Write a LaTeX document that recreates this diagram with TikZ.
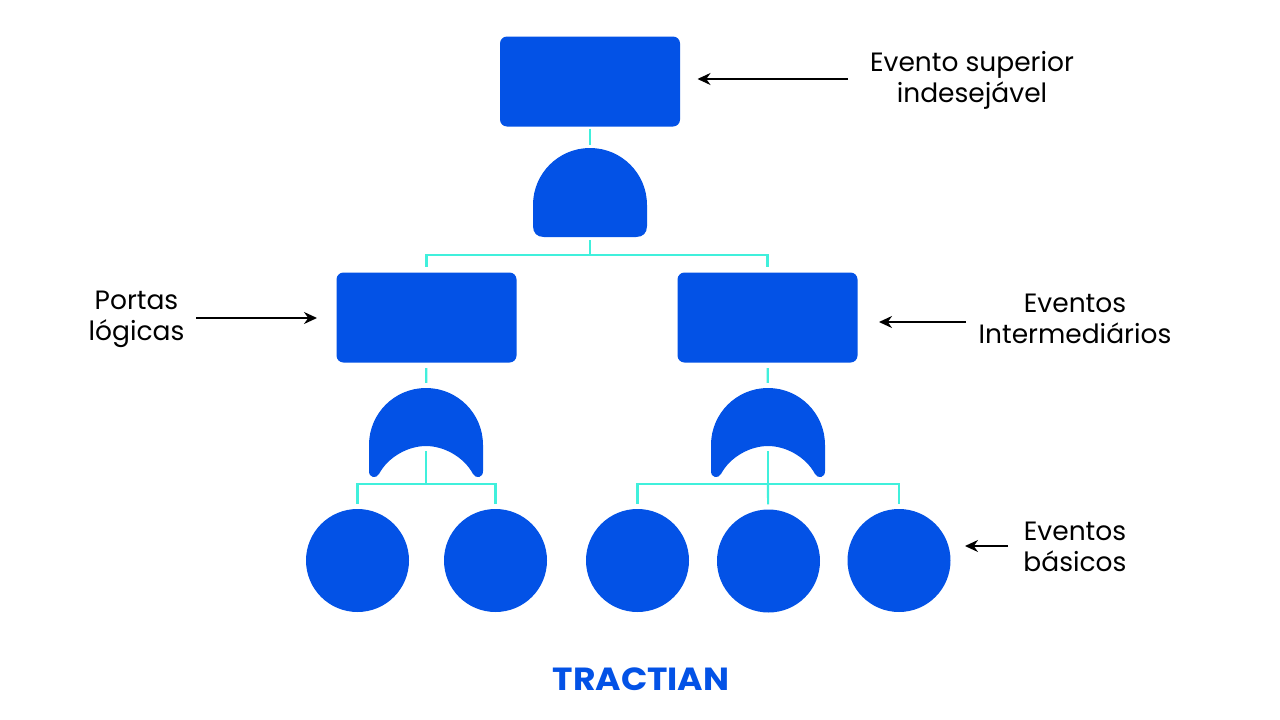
\documentclass[tikz,border=0pt]{standalone}
\usepackage{fontspec}
\setmainfont{Poppins}
\usetikzlibrary{arrows.meta}
\definecolor{gateblue}{HTML}{0352E6}
\definecolor{linkcyan}{HTML}{40F0DC}
\tikzset{
  x=1pt,y=-1pt,
  boxnode/.style={draw=none,fill=gateblue,rounded corners=7pt,minimum width=180pt,minimum height=90pt,inner sep=0pt},
  eventnode/.style={circle,fill=gateblue,minimum size=103pt,inner sep=0pt},
  gatenode/.style={minimum width=114pt,minimum height=89pt,inner sep=0pt},
  gatefill/.style={fill=gateblue,draw=none},
  link/.style={draw=linkcyan,line width=2.2pt},
  pointer/.style={draw=black,line width=1.8pt,-{Stealth[length=13pt,width=12pt]}},
  lbl/.style={align=center,inner sep=0pt,font=\fontsize{26.5}{31.5}\selectfont,text=black},
}
\begin{document}
\begin{tikzpicture}
\useasboundingbox (0,0) rectangle (1280,720);
\fill[white] (0,0) rectangle (1280,720);

% boxes
\node[boxnode] (top) at (590,81.5) {};
\node[boxnode] (midL) at (426.5,317.5) {};
\node[boxnode] (midR) at (767.5,317.5) {};

% AND gate
\node[gatenode] (andg) at (590,192.5) {};
\fill[gatefill] (533,205) arc[start angle=180,end angle=360,radius=57] -- (647,226)
  .. controls (647,233) and (643,237) .. (636,237) -- (544,237)
  .. controls (537,237) and (533,233) .. (533,226) -- cycle;

% OR gates
\node[gatenode] (orL) at (426,432.5) {};
\node[gatenode] (orR) at (768,432.5) {};
\foreach \cx in {426,768} {
\begin{scope}[shift={(\cx,0)}]
\fill[gatefill] (-57,445) arc[start angle=180,end angle=360,radius=57] -- (57,471)
  .. controls (57,478) and (50,479) .. (47,474)
  .. controls (38,457) and (18,446) .. (0,446)
  .. controls (-18,446) and (-38,457) .. (-47,474)
  .. controls (-50,479) and (-57,478) .. (-57,471) -- cycle;
\end{scope}
}

% basic events
\node[eventnode] (c1) at (357.5,560.5) {};
\node[eventnode] (c2) at (495.5,560.5) {};
\node[eventnode] (c3) at (637.5,560.5) {};
\node[eventnode] (c4) at (768.5,561) {};
\node[eventnode] (c5) at (899,560.5) {};

% junctions
\coordinate (jTop) at (590,255);
\coordinate (inL) at (426,451);
\coordinate (inR) at (768,451);
\coordinate (jL) at (426,484);
\coordinate (jR) at (768,484);

% connectors
\draw[link,shorten <=2pt,shorten >=3pt] (top) -- (andg);
\draw[link,shorten <=3pt] (andg) -- (jTop);
\draw[link,shorten >=5pt] (jTop) -| (midL);
\draw[link,shorten >=5pt] (jTop) -| (midR);
\draw[link,shorten <=5.5pt,shorten >=5pt] (midL) -- (orL);
\draw[link,shorten <=5.5pt,shorten >=5pt] (midR) -- (orR);
\draw[link] (inL) -- (jL);
\draw[link] (inR) -- (jR);
\draw[link,shorten >=5pt] (jL) -| (c1);
\draw[link,shorten >=5pt] (jL) -| (c2);
\draw[link,shorten >=5pt] (jR) -| (c3);
\draw[link,shorten >=5pt] (jR) -- (c4);
\draw[link,shorten >=5pt] (jR) -| (c5);

% labels
\node[lbl] (lTop) at (972,80.5) {Evento superior\\indesejável};
\node[lbl] (lGate) at (136.5,319.5) {Portas\\lógicas};
\node[lbl] (lMid) at (1075,319) {Eventos\\Intermediários};
\node[lbl] (lBase) at (1075,547) {Eventos\\básicos};

% pointers
\coordinate (pTopA) at (848,79);
\coordinate (pTopB) at (697.5,79);
\coordinate (pGateA) at (196,318);
\coordinate (pGateB) at (317,318);
\coordinate (pMidA) at (966,322);
\coordinate (pMidB) at (879,322);
\coordinate (pBaseA) at (1008,546);
\coordinate (pBaseB) at (965,546);
\draw[pointer] (pTopA) -- (pTopB);
\draw[pointer] (pGateA) -- (pGateB);
\draw[pointer] (pMidA) -- (pMidB);
\draw[pointer] (pBaseA) -- (pBaseB);

% logo
\node[inner sep=0pt,text=gateblue,font=\fontsize{32}{32}\selectfont\bfseries] (logo) at (641,679) {\scalebox{1.08}[1]{TRACTIAN}};
\end{tikzpicture}
\end{document}
